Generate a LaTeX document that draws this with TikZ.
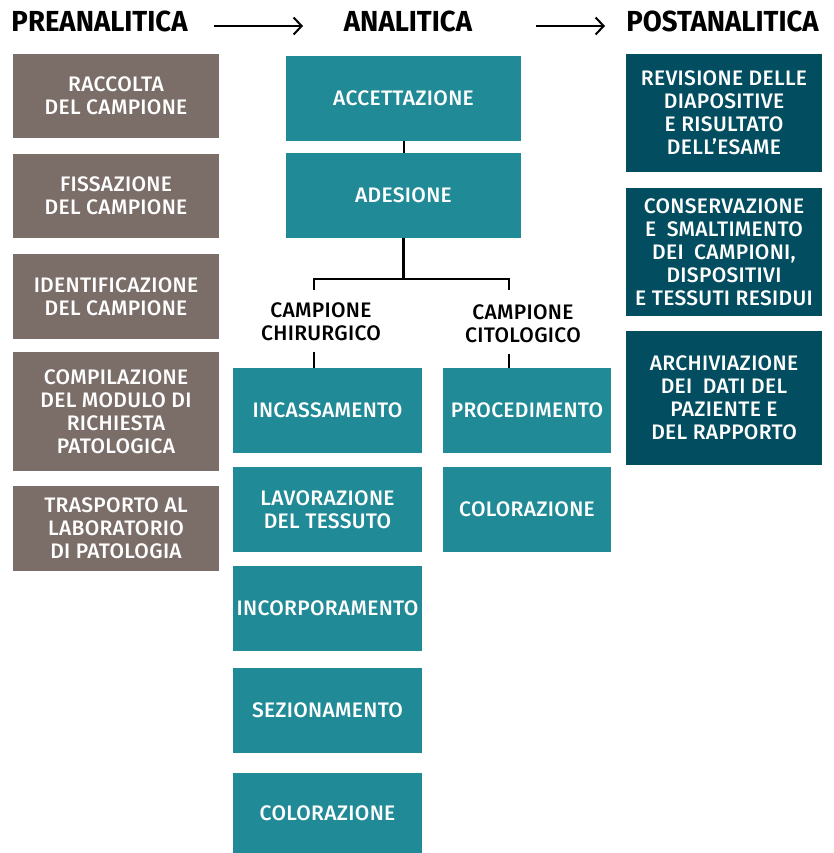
\documentclass[tikz,border=0pt]{standalone}
\usepackage{fontspec}
\setmainfont{Fira Sans Medium}[LetterSpace=1.5]
\newfontfamily\headfont[FakeStretch=0.95]{Fira Sans}
\usetikzlibrary{arrows.meta}
\definecolor{taupe}{HTML}{7B6D68}
\definecolor{teal}{HTML}{208A96}
\definecolor{darkteal}{HTML}{024D5F}
\tikzset{
  x=1pt,y=-1pt,
  boxbase/.style={inner sep=0pt, align=center, text=white,
    font=\fontsize{21}{23}\selectfont},
  prebox/.style={boxbase, fill=taupe, minimum width=206pt},
  anabox/.style={boxbase, fill=teal},
  postbox/.style={boxbase, fill=darkteal, minimum width=196pt},
  header/.style={inner sep=0pt, font=\headfont\bfseries\fontsize{29}{30}\selectfont},
  sublabel/.style={inner sep=0pt, align=center, font=\fontsize{21}{23}\selectfont},
  conn/.style={line width=2.3pt, black},
  phasearrow/.style={line width=2pt, -{Straight Barb[length=8pt,width=17pt,line width=2pt]}},
}
\begin{document}
\begin{tikzpicture}
\path[use as bounding box] (0,0) rectangle (833,853);

% headers
\node[header] (pre) at (99.5,21) {PREANALITICA};
\node[header] (ana) at (408,21) {ANALITICA};
\node[header] (post) at (722.5,21) {POSTANALITICA};
\coordinate (a1s) at (214,26);
\coordinate (a1e) at (303,26);
\coordinate (a2s) at (536,26);
\coordinate (a2e) at (605,26);
\draw[phasearrow] (a1s) -- (a1e);
\draw[phasearrow] (a2s) -- (a2e);

% preanalitica
\node[prebox, minimum height=84pt] (r1) at (116,96) {RACCOLTA\\DEL CAMPIONE};
\node[prebox, minimum height=84pt] (r2) at (116,196) {FISSAZIONE\\DEL CAMPIONE};
\node[prebox, minimum height=85pt] (r3) at (116,296.5) {IDENTIFICAZIONE\\DEL CAMPIONE};
\node[prebox, minimum height=119pt] (r4) at (116,411.5) {COMPILAZIONE\\DEL MODULO DI\\RICHIESTA\\PATOLOGICA};
\node[prebox, minimum height=85pt] (r5) at (116,528.5) {TRASPORTO AL\\LABORATORIO\\DI PATOLOGIA};

% analitica
\node[anabox, minimum width=235pt, minimum height=85pt] (acc) at (403.5,98.5) {ACCETTAZIONE};
\node[anabox, minimum width=235pt, minimum height=85pt] (ade) at (403.5,195.5) {ADESIONE};
\draw[line width=2pt] (acc.south) -- (ade.north);

\node[sublabel] (chir) at (321,321.5) {CAMPIONE\\CHIRURGICO};
\node[sublabel] (cito) at (523,323.5) {CAMPIONE\\CITOLOGICO};

\node[anabox, minimum width=189pt, minimum height=85pt] (inc) at (327.5,410.5) {INCASSAMENTO};
\node[anabox, minimum width=189pt, minimum height=85pt] (lav) at (327.5,509.5) {LAVORAZIONE\\DEL TESSUTO};
\node[anabox, minimum width=189pt, minimum height=85pt] (incp) at (327.5,608.5) {INCORPORAMENTO};
\node[anabox, minimum width=189pt, minimum height=85pt] (sez) at (327.5,710.5) {SEZIONAMENTO};
\node[anabox, minimum width=189pt, minimum height=80pt] (colA) at (327.5,813) {COLORAZIONE};

\node[anabox, minimum width=168pt, minimum height=85pt] (proc) at (527,410.5) {PROCEDIMENTO};
\node[anabox, minimum width=168pt, minimum height=85pt] (colB) at (527,509.5) {COLORAZIONE};

% tree connectors
\coordinate (jm) at (403.5,279);
\coordinate (jl) at (314,279);
\coordinate (jr) at (509,279);
\coordinate (jl2) at (314,290);
\coordinate (jr2) at (509,290);
\coordinate (kl) at (314,352);
\coordinate (kr) at (509,354);
\draw[conn] (ade.south) -- (jm);
\draw[conn] (jl2) -- (jl) -- (jr) -- (jr2);
\draw[conn] (kl) -- (kl |- inc.north);
\draw[conn] (kr) -- (kr |- proc.north);

% postanalitica
\node[postbox, minimum height=118pt] (p1) at (724,113) {REVISIONE DELLE\\DIAPOSITIVE\\E RISULTATO\\DELL’ESAME};
\node[postbox, minimum height=128pt] (p2) at (724,252) {CONSERVAZIONE\\E\hspace{0.5em}SMALTIMENTO\\DEI\hspace{0.5em}CAMPIONI,\\DISPOSITIVI\\E TESSUTI RESIDUI};
\node[postbox, minimum height=134pt] (p3) at (724,398) {ARCHIVIAZIONE\\DEI\hspace{0.5em}DATI DEL\\PAZIENTE E\\DEL RAPPORTO};
\end{tikzpicture}
\end{document}
